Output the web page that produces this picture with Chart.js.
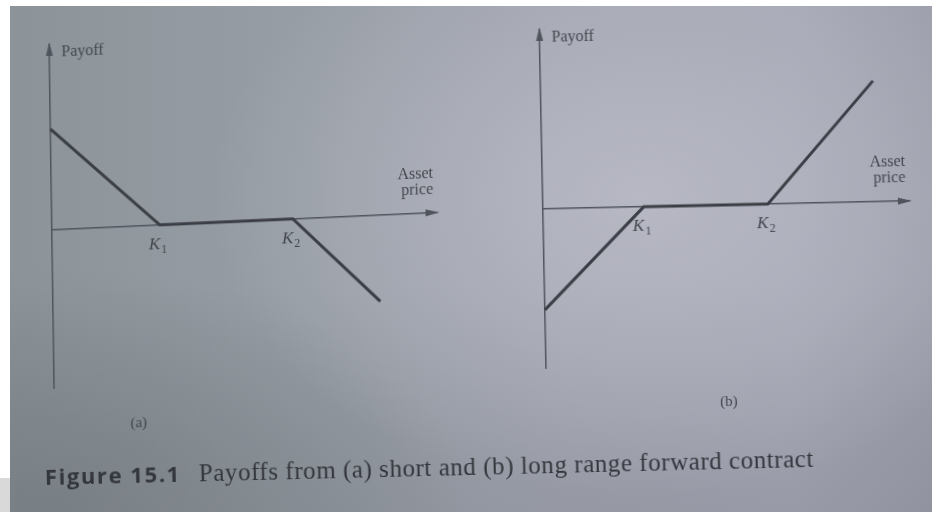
<!DOCTYPE html>
<html>
<head>
<meta charset="utf-8">
<script src="https://cdn.jsdelivr.net/npm/chart.js@4.4.1/dist/chart.umd.min.js"></script>
<style>
  html, body { margin: 0; padding: 0; background: #ffffff; }
  body { width: 932px; height: 512px; position: relative; overflow: hidden; }
  #page {
    position: absolute; left: 10px; top: 6px; width: 922px; height: 506px;
    background:
      radial-gradient(ellipse 430px 300px at 630px 190px, rgba(186,187,199,0.85), rgba(186,187,199,0) 100%),
      radial-gradient(ellipse 420px 240px at 40px 500px, rgba(112,118,122,0.55), rgba(112,118,122,0) 100%),
      linear-gradient(180deg, rgba(60,65,75,0) 55%, rgba(60,65,75,0.12) 100%),
      linear-gradient(90deg, #8c949a 0%, #969da4 30%, #a2a5b0 60%, #a5a7b4 85%, #9c9fab 100%);
  }
  #corner { position: absolute; left: 0; top: 478px; width: 10px; height: 34px; background: #d9d9d9; }
  .panel { position: absolute; top: 0; width: 466px; height: 512px; }
  #panelA { left: 0; transform-origin: 52px 230px; transform: matrix(1, -0.045, 0.0146, 1, 0, 0); }
  #panelB { left: 466px; transform-origin: 77px 209px; transform: matrix(1, -0.022, 0.02, 1, 0, 0); }
  #caption {
    position: absolute; left: 45px; top: 463px; white-space: nowrap;
    transform-origin: 0 21px; transform: rotate(-1.35deg);
    color: #33363c; line-height: 26px;
  }
  #caption .fig { font-family: "Open Sans", sans-serif; font-weight: 700; font-size: 22px; letter-spacing: 1.6px; }
  #caption .txt { font-family: "Liberation Serif", serif; font-size: 25px; letter-spacing: 0.55px; margin-left: 18px; }
</style>
</head>
<body>
<div id="page"></div>
<div id="corner"></div>
<div class="panel" id="panelA"><canvas id="chartA" width="466" height="512"></canvas></div>
<div class="panel" id="panelB"><canvas id="chartB" width="466" height="512"></canvas></div>
<div id="caption"><span class="fig">Figure 15.1</span><span class="txt">Payoffs from (a) short and (b) long range forward contract</span></div>

<script>
// Strike prices of the range forward and their axis labels (K with subscript)
const strikes = [30, 67];
const strikeSymbols = ['K', 'K'];
const strikeSubscripts = ['1', '2'];

// (a) short range forward contract
const assetPriceShort = [0, 30, 67, 91];
const payoffShort = [28, 0, 0, -24];

// (b) long range forward contract
const assetPriceLong = [0, 30, 67, 99];
const payoffLong = [-30, 0, 0, 36];

// Text shown on the axes and under each panel
const yTitle = 'Payoff';
const xTitle = ['Asset', 'price'];
const panelTitles = ['(a)', '(b)'];

const ink = '#3b3e45';
const axisInk = '#50555d';
const textInk = '#43464d';

// Arrowheads on the axes, strike labels, axis titles and the panel letter
const axisDecor = {
  id: 'axisDecor',
  afterDraw(chart, args, opts) {
    const { ctx, scales: { x, y } } = chart;
    const x0 = x.getPixelForValue(0);
    const y0 = y.getPixelForValue(0);
    const xr = x.getPixelForValue(x.max);
    const yt = y.getPixelForValue(y.max);
    ctx.save();
    ctx.fillStyle = axisInk;
    ctx.beginPath();
    ctx.moveTo(xr + 3, y0);
    ctx.lineTo(xr - 11, y0 - 3.5);
    ctx.lineTo(xr - 11, y0 + 3.5);
    ctx.closePath();
    ctx.fill();
    ctx.beginPath();
    ctx.moveTo(x0, yt - 3);
    ctx.lineTo(x0 - 3.5, yt + 11);
    ctx.lineTo(x0 + 3.5, yt + 11);
    ctx.closePath();
    ctx.fill();

    ctx.fillStyle = textInk;
    ctx.textBaseline = 'alphabetic';

    // strike labels below the price axis
    strikes.forEach((k, i) => {
      const px = x.getPixelForValue(k);
      ctx.font = 'italic 17px "Liberation Serif", serif';
      const wK = ctx.measureText(strikeSymbols[i]).width;
      ctx.font = '12px "Liberation Serif", serif';
      const wS = ctx.measureText(strikeSubscripts[i]).width;
      const left = px - 2 - (wK + wS + 1) / 2;
      ctx.textAlign = 'left';
      ctx.font = 'italic 17px "Liberation Serif", serif';
      ctx.fillText(strikeSymbols[i], left, y0 + 24);
      ctx.font = '12px "Liberation Serif", serif';
      ctx.fillText(strikeSubscripts[i], left + wK + 1, y0 + 28);
    });

    ctx.font = '16px "Liberation Serif", serif';
    ctx.textAlign = 'left';
    ctx.fillText(yTitle, x0 + 12, yt + 12);
    ctx.textAlign = 'right';
    xTitle.forEach((line, i) => ctx.fillText(line, xr - 3, y0 - 35 + i * 16));
    ctx.textAlign = 'center';
    ctx.textBaseline = 'middle';
    ctx.font = '15px "Liberation Serif", serif';
    ctx.fillText(opts.title, x0 + opts.titleDx, y0 + 197);
    ctx.restore();
  }
};

function makePanel(canvasId, prices, payoffs, xMax, yMin, yMax, pad, title, titleDx) {
  return new Chart(document.getElementById(canvasId), {
    type: 'scatter',
    data: {
      datasets: [{
        data: prices.map((p, i) => ({ x: p, y: payoffs[i] })),
        showLine: true,
        borderColor: ink,
        borderWidth: 3,
        pointRadius: 0,
        tension: 0,
        clip: false
      }]
    },
    options: {
      responsive: false,
      animation: false,
      devicePixelRatio: 1,
      layout: { padding: pad },
      plugins: {
        legend: { display: false },
        tooltip: { enabled: false },
        axisDecor: { title: title, titleDx: titleDx }
      },
      scales: {
        x: {
          type: 'linear',
          position: { y: 0 },
          min: 0,
          max: xMax,
          grid: { display: false },
          border: { display: true, color: axisInk, width: 1.5 },
          afterBuildTicks: (scale) => { scale.ticks = strikes.map(v => ({ value: v })); },
          ticks: { display: false }
        },
        y: {
          type: 'linear',
          position: { x: 0 },
          min: yMin,
          max: yMax,
          grid: { display: false },
          border: { display: true, color: axisInk, width: 1.5 },
          ticks: { display: false }
        }
      }
    },
    plugins: [axisDecor]
  });
}

makePanel('chartA', assetPriceShort, payoffShort, 107, -44, 51.4,
  { left: 52, right: 29, top: 45, bottom: 124 }, panelTitles[0], 84);
makePanel('chartB', assetPriceLong, payoffLong, 109, -47.3, 53.3,
  { left: 77, right: 23, top: 30, bottom: 144 }, panelTitles[1], 182);
</script>
</body>
</html>
